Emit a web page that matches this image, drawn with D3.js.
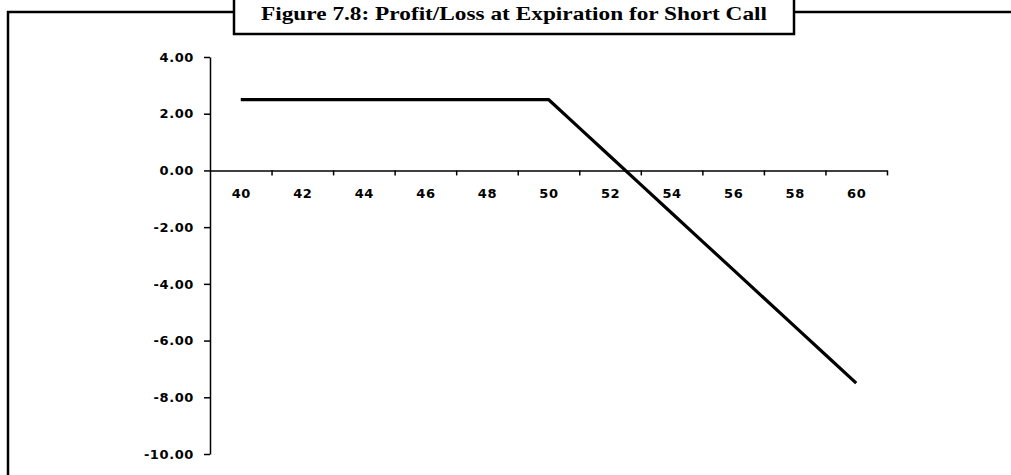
<!DOCTYPE html>
<html>
<head>
<meta charset="utf-8">
<script src="https://cdn.jsdelivr.net/npm/d3@7"></script>
<style>
  html, body { margin: 0; padding: 0; background: #fff; }
  svg { display: block; }
</style>
</head>
<body>
<div id="chart"></div>
<script>
const width = 1011;
const height = 475;

// stock price at expiration and profit/loss of the short call (strike 50, premium 2.50)
const prices = [40, 41, 42, 43, 44, 45, 46, 47, 48, 49, 50, 51, 52, 53, 54, 55, 56, 57, 58, 59, 60];
const profit = [2.5, 2.5, 2.5, 2.5, 2.5, 2.5, 2.5, 2.5, 2.5, 2.5, 2.5, 1.5, 0.5, -0.5, -1.5, -2.5, -3.5, -4.5, -5.5, -6.5, -7.5];
const xLabels = [40, 42, 44, 46, 48, 50, 52, 54, 56, 58, 60];
const xTicks = [41, 43, 45, 47, 49, 51, 53, 55, 57, 59, 61];
const yTicks = [-10, -8, -6, -4, -2, 0, 2, 4];
const title = "Figure 7.8: Profit/Loss at Expiration for Short Call";

const svg = d3.select("#chart")
  .append("svg")
  .attr("width", width)
  .attr("height", height);

// outer frame
svg.append("rect")
  .attr("x", 8)
  .attr("y", 12)
  .attr("width", width + 20)
  .attr("height", height + 20)
  .attr("fill", "none")
  .attr("stroke", "#000")
  .attr("stroke-width", 2.5);

// title box
svg.append("rect")
  .attr("x", 234)
  .attr("y", -4)
  .attr("width", 560)
  .attr("height", 38)
  .attr("fill", "#fff")
  .attr("stroke", "#000")
  .attr("stroke-width", 2.5);

svg.append("text")
  .attr("x", 514)
  .attr("y", 20)
  .attr("text-anchor", "middle")
  .attr("textLength", 506)
  .attr("lengthAdjust", "spacingAndGlyphs")
  .style("font-family", "'Liberation Serif', serif")
  .style("font-weight", "bold")
  .style("font-size", "19px")
  .text(title);

const x = d3.scaleLinear().domain([39, 61]).range([210, 887]);
const y = d3.scaleLinear().domain([-10, 4]).range([454, 57]);

const tickFont = g => g.selectAll("text")
  .style("font-family", "'DejaVu Sans', sans-serif")
  .style("font-size", "13px")
  .style("font-weight", "bold")
  .style("letter-spacing", "0.6px")
  .attr("fill", "#000");

// y axis
svg.append("g")
  .attr("transform", `translate(${x(39)},0)`)
  .call(d3.axisLeft(y)
    .tickValues(yTicks)
    .tickSize(6)
    .tickSizeOuter(0)
    .tickPadding(10)
    .tickFormat(d => d.toFixed(2)))
  .call(g => g.selectAll("path, line").attr("stroke", "#000").attr("stroke-width", 1.5))
  .call(tickFont);

// x axis tick marks
svg.append("g")
  .attr("transform", `translate(0,${y(0)})`)
  .call(d3.axisBottom(x)
    .tickValues(xTicks)
    .tickSize(5)
    .tickSizeOuter(0)
    .tickFormat(""))
  .call(g => g.selectAll("path, line").attr("stroke", "#000").attr("stroke-width", 1.5));

// x axis labels
svg.append("g")
  .attr("transform", `translate(0,${y(0)})`)
  .call(d3.axisBottom(x)
    .tickValues(xLabels)
    .tickSize(0)
    .tickPadding(18)
    .tickFormat(d3.format("d")))
  .call(g => g.select(".domain").remove())
  .call(tickFont);

// profit/loss line
const line = d3.line()
  .x((d, i) => x(prices[i]))
  .y(d => y(d));

svg.append("path")
  .datum(profit)
  .attr("fill", "none")
  .attr("stroke", "#000")
  .attr("stroke-width", 3.2)
  .attr("stroke-linejoin", "round")
  .attr("d", line);
</script>
</body>
</html>
